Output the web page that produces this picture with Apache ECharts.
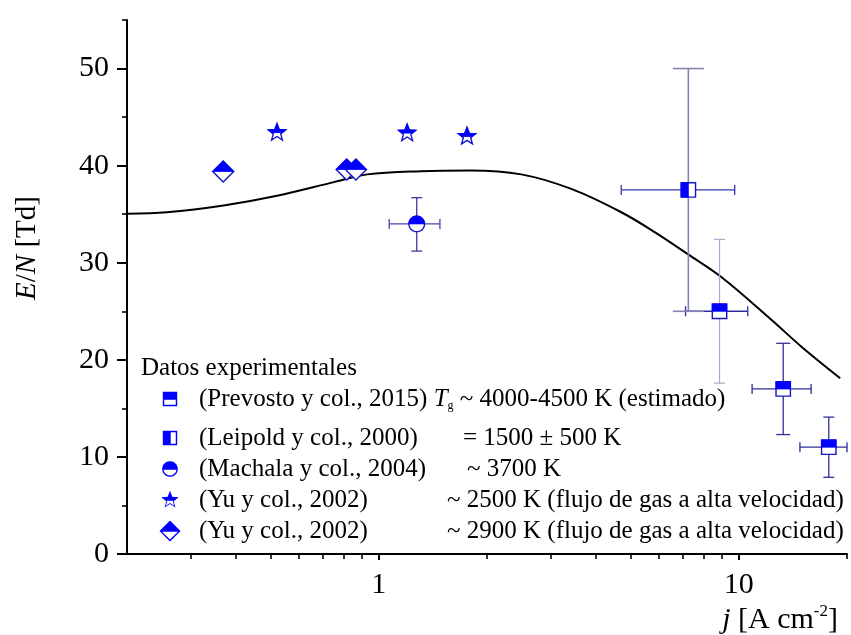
<!DOCTYPE html>
<html><head><meta charset="utf-8">
<script src="https://cdn.jsdelivr.net/npm/echarts@6/dist/echarts.min.js"></script>
<style>html,body{margin:0;padding:0;background:#fff}#c{width:851px;height:635px}</style>
</head><body><div id="c"></div>
<script>
// ---------------- DATA ----------------
const curveX = [0.2, 0.258, 0.371, 0.522, 0.751, 0.93, 1.31, 1.8, 2.49, 3.43, 4.72, 5.86, 7.24, 8.97, 12.35, 15.0, 19.15];
const curveY = [35.05, 35.2, 35.9, 36.9, 38.3, 39.1, 39.43, 39.5, 39.1, 37.6, 35.2, 33.13, 30.86, 28.5, 24.1, 21.3, 18.1];

const prevostoX   = [8.85, 13.3, 17.8];
const prevostoY   = [25.0, 17.0, 11.0];
const prevostoXLo = [7.12, 10.9, 14.8];
const prevostoXHi = [10.6, 15.9, 20.0];
const prevostoYLo = [17.6, 12.3, 7.9];
const prevostoYHi = [32.4, 21.7, 14.1];

const leipoldX   = [7.25];
const leipoldY   = [37.5];
const leipoldXLo = [4.72];
const leipoldXHi = [9.75];
const leipoldYLo = [25.0];
const leipoldYHi = [50.0];

const machalaX   = [1.276];
const machalaY   = [34.0];
const machalaXLo = [1.07];
const machalaXHi = [1.48];
const machalaYLo = [31.2];
const machalaYHi = [36.7];

const yu2500X = [0.522, 1.20, 1.76];
const yu2500Y = [43.4, 43.35, 43.0];

const yu2900X = [0.37, 0.815, 0.865];
const yu2900Y = [39.4, 39.6, 39.6];

const xMajorTicks = [1, 10];
const xMinorTicks = [0.3, 0.4, 0.5, 0.6, 0.7, 0.8, 0.9, 2, 3, 4, 5, 6, 7, 8, 9, 20];
const yMajorTicks = [0, 10, 20, 30, 40, 50];
const yMinorTicks = [5, 15, 25, 35, 45, 55];

// ---------------- STYLE ----------------
const FONT = '"Liberation Serif", "Times New Roman", serif';
const BLUE = '#0000ff';
const EDGE = '#1414c8';

function squarePts(h){return [[-h,-h],[h,-h],[h,h],[-h,h]];}
function circlePts(r){const p=[];for(let i=0;i<48;i++){const a=i/48*2*Math.PI;p.push([r*Math.cos(a),r*Math.sin(a)]);}return p;}
function starPts(R,r){const p=[];for(let i=0;i<10;i++){const a=-Math.PI/2+i*Math.PI/5;const rr=(i%2)?r:R;p.push([rr*Math.cos(a),rr*Math.sin(a)]);}return p;}
function diamondPts(h){return [[0,-h],[h,0],[0,h],[-h,0]];}

const shapes = {
  squareTop:  {pts: squarePts(7.2), axis: 1, inset: 0.80},
  squareLeft: {pts: squarePts(7.2), axis: 0, inset: 0.80},
  circleTop:  {pts: circlePts(7.8), axis: 1, inset: 0.82},
  starTop:    {pts: starPts(9.2, 3.9), axis: 1, inset: 0.76},
  diamondTop: {pts: diamondPts(10.5), axis: 1, inset: 0.82}
};

// keep points with g(p) <= 0
function clip(pts, g){
  const out=[];
  for(let i=0;i<pts.length;i++){
    const a=pts[i], b=pts[(i+1)%pts.length];
    const ga=g(a), gb=g(b);
    if(ga<=0) out.push(a);
    if((ga<=0)!==(gb<=0)){const t=ga/(ga-gb); out.push([a[0]+t*(b[0]-a[0]), a[1]+t*(b[1]-a[1])]);}
  }
  return out;
}
function area(pts){let s=0;for(let i=0;i<pts.length;i++){const a=pts[i],b=pts[(i+1)%pts.length];s+=a[0]*b[1]-b[0]*a[1];}return s;}
function toPath(pts){return 'M'+pts.map(p=>p[0].toFixed(2)+','+p[1].toFixed(2)).join('L')+'Z';}
const ICON_BOX = 31;
function iconPath(sh){
  const k=sh.axis;
  const inner0=sh.pts.map(p=>[p[0]*sh.inset,p[1]*sh.inset]);
  let inner=clip(inner0, p=>0.7-p[k]);
  const outer=sh.pts.slice();
  if(area(outer)*area(inner)>0) inner=inner.slice().reverse();
  const f=ICON_BOX/2;
  return 'path://M'+(-f)+','+(-f)+'M'+f+','+f+toPath(outer)+toPath(inner);
}

function makeSeries(name, shapeKey, xs, ys, err, est){
  const data = xs.map((x,i)=>[x, ys[i],
    err?err.xLo[i]:null, err?err.xHi[i]:null, err?err.yLo[i]:null, err?err.yHi[i]:null]);
  const sh = shapes[shapeKey];
  return {
    type:'custom', name, data, z:3,
    itemStyle:{color:BLUE},
    encode:{x:0,y:1},
    renderItem:function(params, api){
      const i=params.dataIndex;
      const x=api.value(0), y=api.value(1);
      const c=api.coord([x,y]);
      const ch=[];
      const xl=api.value(2), xh=api.value(3), yl=api.value(4), yh=api.value(5);
      if(est && !isNaN(yl)){
        const a=api.coord([x,yl]), b=api.coord([x,yh]);
        const st={stroke:est.vColor[i], lineWidth:est.vWidth[i]};
        const w=est.vCap[i]/2;
        ch.push({type:'line',shape:{x1:a[0],y1:a[1],x2:b[0],y2:b[1]},style:st});
        ch.push({type:'line',shape:{x1:a[0]-w,y1:a[1],x2:a[0]+w,y2:a[1]},style:st});
        ch.push({type:'line',shape:{x1:b[0]-w,y1:b[1],x2:b[0]+w,y2:b[1]},style:st});
      }
      if(est && !isNaN(xl)){
        const a=api.coord([xl,y]), b=api.coord([xh,y]);
        const st={stroke:est.hColor, lineWidth:1.3};
        const h=est.hCap/2;
        ch.push({type:'line',shape:{x1:a[0],y1:a[1],x2:b[0],y2:b[1]},style:st});
        ch.push({type:'line',shape:{x1:a[0],y1:a[1]-h,x2:a[0],y2:a[1]+h},style:st});
        ch.push({type:'line',shape:{x1:b[0],y1:b[1]-h,x2:b[0],y2:b[1]+h},style:st});
      }
      const outer=sh.pts.map(p=>[c[0]+p[0],c[1]+p[1]]);
      ch.push({type:'polygon',shape:{points:outer},style:{fill:'#fff',stroke:EDGE,lineWidth:1.4}});
      const half=clip(sh.pts,p=>p[sh.axis]).map(p=>[c[0]+p[0],c[1]+p[1]]);
      ch.push({type:'polygon',shape:{points:half},style:{fill:BLUE,stroke:BLUE,lineWidth:0.8}});
      return {type:'group',children:ch};
    }
  };
}

const names = ['Prevosto 2015','Leipold 2000','Machala 2004','Yu 2002 (2500 K)','Yu 2002 (2900 K)'];
const shapeKeys = ['squareTop','squareLeft','circleTop','starTop','diamondTop'];
const legendText = {
  'Prevosto 2015': '{a|(Prevosto y col., 2015) }{t|T}{s|g}{a| ~ 4000-4500 K (estimado)}',
  'Leipold 2000': '{n2|(Leipold y col., 2000)}{a|= 1500 ± 500 K}',
  'Machala 2004': '{n3|(Machala y col., 2004)}{a|~ 3700 K}',
  'Yu 2002 (2500 K)': '{n4|(Yu y col., 2002)}{a|~ 2500 K (flujo de gas a alta velocidad)}',
  'Yu 2002 (2900 K)': '{n4|(Yu y col., 2002)}{a|~ 2900 K (flujo de gas a alta velocidad)}'
};

const tx = {fontFamily:FONT, fontSize:25, color:'#000', lineHeight:26};
const legendRich = {
  a:Object.assign({}, tx),
  t:Object.assign({}, tx, {fontStyle:'italic'}),
  s:{fontFamily:FONT, fontSize:12, color:'#000', lineHeight:6, verticalAlign:'bottom'},
  n2:Object.assign({width:264}, tx),
  n3:Object.assign({width:268}, tx),
  n4:Object.assign({width:248}, tx)
};
function legendOf(items, top){
  return {
    orient:'vertical', left:170-ICON_BOX/2, top:top, padding:0, itemGap:0,
    itemWidth:ICON_BOX, itemHeight:ICON_BOX, selectedMode:false,
    itemStyle:{borderWidth:0},
    data:items.map(i=>({name:names[i], icon:iconPath(shapes[shapeKeys[i]])})),
    formatter:function(name){return legendText[name];},
    textStyle:{fontFamily:FONT, fontSize:25, color:'#000', padding:[0,0,0,199-170-ICON_BOX/2-5], rich:legendRich}
  };
}

const series = [
  {type:'line', name:'curve', data:curveX.map((x,i)=>[x,curveY[i]]), smooth:0.35, showSymbol:false,
   lineStyle:{color:'#000', width:2}, z:1, silent:true},
  makeSeries(names[0], shapeKeys[0], prevostoX, prevostoY,
    {xLo:prevostoXLo,xHi:prevostoXHi,yLo:prevostoYLo,yHi:prevostoYHi},
    {vColor:['#a8a8d0','#30309a','#30309a'], vWidth:[1.2,1.3,1.3], vCap:[11,14,11], hColor:'#2c2c9c', hCap:10}),
  makeSeries(names[1], shapeKeys[1], leipoldX, leipoldY,
    {xLo:leipoldXLo,xHi:leipoldXHi,yLo:leipoldYLo,yHi:leipoldYHi},
    {vColor:['#8484b4'], vWidth:[1.6], vCap:[31], hColor:'#3434a4', hCap:10}),
  makeSeries(names[2], shapeKeys[2], machalaX, machalaY,
    {xLo:machalaXLo,xHi:machalaXHi,yLo:machalaYLo,yHi:machalaYHi},
    {vColor:['#3c3ca0'], vWidth:[1.3], vCap:[11], hColor:'#4444a8', hCap:10}),
  makeSeries(names[3], shapeKeys[3], yu2500X, yu2500Y, null, null),
  makeSeries(names[4], shapeKeys[4], yu2900X, yu2900Y, null, null)
];

const axisCommon = {type:'log', logBase:10, min:0.2, max:20, splitLine:{show:false}, minorTick:{show:false}};

const option = {
  animation:false,
  backgroundColor:'#fff',
  grid:{left:127, right:4, top:20, bottom:81},
  title:{text:'Datos experimentales', left:141, top:355.5, padding:0,
    textStyle:{fontFamily:FONT, fontSize:25, fontWeight:'normal', color:'#000', lineHeight:25}},
  legend:[legendOf([0], 399-ICON_BOX/2), legendOf([1,2,3,4], 438-ICON_BOX/2)],
  xAxis:[
    Object.assign({}, axisCommon, {
      axisLine:{show:true, onZero:false, lineStyle:{color:'#000', width:2}},
      axisTick:{show:true, length:6, lineStyle:{color:'#000', width:2}, customValues:xMajorTicks},
      axisLabel:{show:true, customValues:xMajorTicks, margin:16, fontFamily:FONT, fontSize:30, color:'#000', formatter:v=>String(v)}
    }),
    Object.assign({}, axisCommon, {
      position:'bottom',
      axisLine:{show:false},
      axisTick:{show:true, length:5, lineStyle:{color:'#000', width:1.6}, customValues:xMinorTicks},
      axisLabel:{show:false}
    })
  ],
  yAxis:[
    {type:'value', min:0, max:55, interval:10, splitLine:{show:false},
     axisLine:{show:true, lineStyle:{color:'#000', width:2}},
     axisTick:{show:true, length:10, lineStyle:{color:'#000', width:2}, customValues:yMajorTicks},
     axisLabel:{show:true, customValues:yMajorTicks, margin:18, fontFamily:FONT, fontSize:30, color:'#000'}},
    {type:'value', min:0, max:55, position:'left', splitLine:{show:false},
     axisLine:{show:false},
     axisTick:{show:true, length:5, lineStyle:{color:'#000', width:1.6}, customValues:yMinorTicks},
     axisLabel:{show:false}}
  ],
  graphic:[
    {type:'text', x:27, y:248, rotation:Math.PI/2, silent:true,
     style:{text:'{i|E}{r|/}{i|N}{r| [Td]}', align:'center', verticalAlign:'middle',
       rich:{i:{fontFamily:FONT,fontSize:29,fontStyle:'italic',fill:'#000',color:'#000'},
             r:{fontFamily:FONT,fontSize:29,fill:'#000',color:'#000'}}}},
    {type:'text', x:838, y:620, silent:true,
     style:{text:'{i|j}{r| [A cm}{s|-2}{r|]}', align:'right', verticalAlign:'middle',
       rich:{i:{fontFamily:FONT,fontSize:30,fontStyle:'italic',lineHeight:34,fill:'#000',color:'#000'},
             r:{fontFamily:FONT,fontSize:30,lineHeight:34,fill:'#000',color:'#000'},
             s:{fontFamily:FONT,fontSize:17,lineHeight:12,verticalAlign:'top',fill:'#000',color:'#000'}}}}
  ],
  series:series
};

const chart = echarts.init(document.getElementById('c'));
chart.setOption(option);
</script>
</body></html>
